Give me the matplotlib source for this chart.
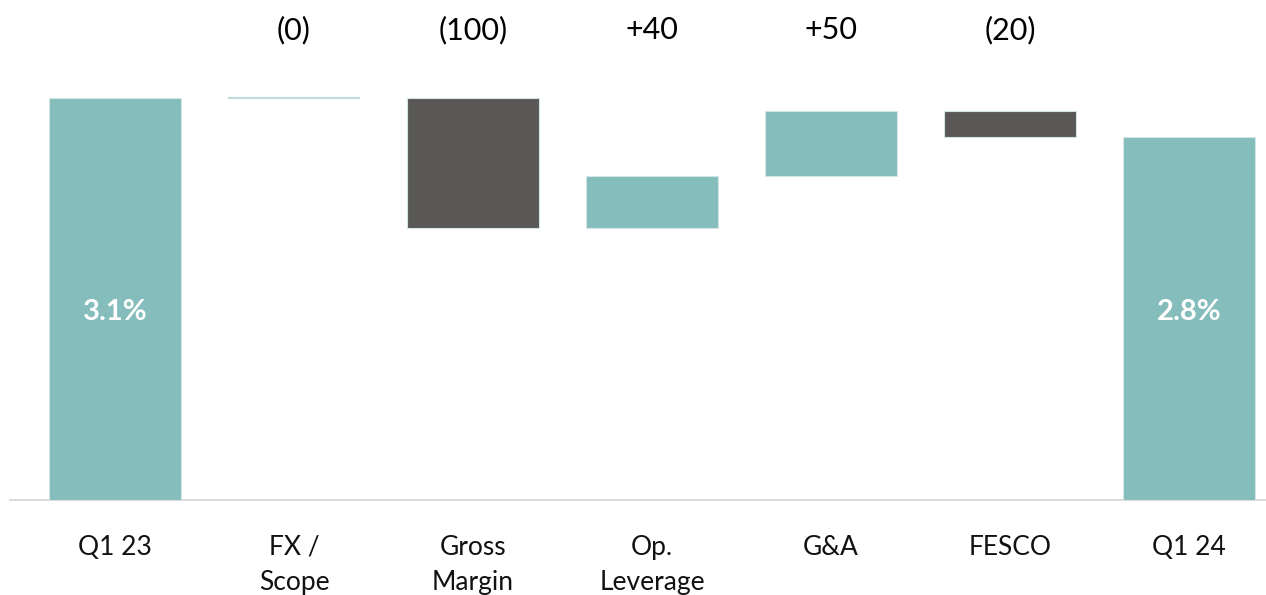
import matplotlib
matplotlib.use("Agg")
import matplotlib.pyplot as plt

# Operating margin bridge, Q1 23 -> Q1 24 (values in % points)
categories = ["Q1 23", "FX /\nScope", "Gross\nMargin", "Op.\nLeverage", "G&A", "FESCO", "Q1 24"]
start_value = 3.1
end_value = 2.8
deltas = [0.0, -1.0, 0.4, 0.5, -0.2]          # changes in % points
delta_labels = ["(0)", "(100)", "+40", "+50", "(20)"]  # changes in bps
total_labels = ["3.1%", "2.8%"]

TEAL = "#84BDBB"
DARK = "#595856"
EDGE = "#D3E5E4"

plt.rcParams["font.family"] = ["Lato", "DejaVu Sans"]

fig = plt.figure(figsize=(12.66, 5.95), dpi=100)
W, H = 1266, 595
px_per_unit = 129.7
ax = fig.add_axes([10 / W, 95 / H, 1256 / W, 500 / H])

# Running levels for floating bars
bottoms, heights, colors = [], [], []
level = start_value
for d in deltas:
    new = level + d
    bottoms.append(min(level, new))
    heights.append(abs(d))
    colors.append(TEAL if d >= 0 else DARK)
    level = new

xs = list(range(len(categories)))
width = 0.74

# Totals
ax.bar([xs[0], xs[-1]], [start_value, end_value], width=width, color=TEAL,
       edgecolor=EDGE, linewidth=0.8, zorder=3)
# Changes
for i, (b, h, c) in enumerate(zip(bottoms, heights, colors), start=1):
    ax.bar(xs[i], h, bottom=b, width=width, color=c,
           edgecolor=EDGE if h > 0 else "#C3DCDB",
           linewidth=0.8 if h > 0 else 1.6, zorder=3)

# Delta labels above the chart
for i, lab in enumerate(delta_labels, start=1):
    ax.text(xs[i], 470 / px_per_unit, lab, ha="center", va="center",
            fontsize=22, color="black")

# Values inside the total bars
for x, lab in zip([xs[0], xs[-1]], total_labels):
    ax.text(x, 188 / px_per_unit, lab, ha="center", va="center", fontsize=21,
            color="white", fontweight="bold", zorder=4)

# Category labels below the baseline, one text per line
for x, lab in zip(xs, categories):
    for k, line in enumerate(lab.split("\n")):
        ax.text(x, -(45 + 35 * k) / px_per_unit, line, ha="center",
                va="center_baseline", fontsize=19, color="#111111",
                clip_on=False)

ax.set_ylim(0, 500 / px_per_unit)
ax.set_xlim((10 - 115) / 179, (1266 - 115) / 179)

for side in ["top", "left", "right"]:
    ax.spines[side].set_visible(False)
ax.spines["bottom"].set_color("#D9D9D9")
ax.spines["bottom"].set_linewidth(1.3)
ax.spines["bottom"].set_zorder(2)
ax.set_xticks([])
ax.set_yticks([])
ax.patch.set_alpha(0)

fig.savefig("out.png", dpi=100, facecolor="white")
